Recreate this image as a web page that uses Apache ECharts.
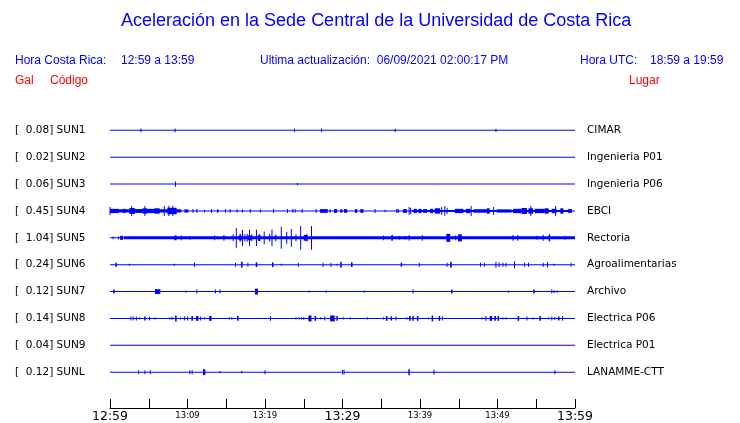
<!DOCTYPE html>
<html>
<head>
<meta charset="utf-8">
<script src="https://cdn.jsdelivr.net/npm/echarts@6/dist/echarts.min.js"></script>
<style>html,body{margin:0;padding:0;background:#fff;}#c{width:740px;height:423px;}</style>
</head>
<body>
<div id="c"></div>
<script>
// ---------- data ----------
const titleText = 'Aceleración en la Sede Central de la Universidad de Costa Rica';
const crLabel = 'Hora Costa Rica:';
const crRange = '12:59 a 13:59';
const updateText = 'Ultima actualización:  06/09/2021 02:00:17 PM';
const utcLabel = 'Hora UTC:';
const utcRange = '18:59 a 19:59';
const colGal = 'Gal';
const colCode = 'Código';
const colPlace = 'Lugar';

const stations = ['SUN1','SUN2','SUN3','SUN4','SUN5','SUN6','SUN7','SUN8','SUN9','SUNL'];
const peakGal = ['0.08','0.02','0.06','0.45','1.04','0.24','0.12','0.14','0.04','0.12'];
const places = ['CIMAR','Ingenieria P01','Ingenieria P06','EBCI','Rectoria','Agroalimentarias','Archivo','Electrica P06','Electrica P01','LANAMME-CTT'];
const tickMinutes = [0,10,20,30,40,50,60];
const tickLabels = ['12:59','13:09','13:19','13:29','13:39','13:49','13:59'];
const bigTicks = ['12:59','13:29','13:59'];

// events: [start minute, end minute, relative amplitude]
const sun1 = [[4.0,4.0,0.07],[8.4,8.4,0.07],[23.8,23.8,0.07],[27.3,27.3,0.07],[36.8,36.8,0.06],[49.8,49.8,0.06]];
const sun2 = [];
const sun3 = [[8.4,8.5,0.1],[24.2,24.2,0.04]];
const sun4 = [[0,9.2,0.06],[0,0,0.15],[0,1.1,0.08],[1.7,2.0,0.08],[2.5,3.2,0.11],[2.8,2.8,0.185],[3.2,4.2,0.07],[4.2,4.8,0.1],[4.5,4.5,0.185],[4.8,5.7,0.08],[5.7,6.4,0.1],[7.0,7.0,0.185],[7.4,8.6,0.12],[7.6,7.6,0.19],[8.1,8.1,0.19],[9.6,10.1,0.06],
  [10.7,10.7,0.07],[11.2,11.2,0.07],[12.2,12.2,0.05],[13.1,13.1,0.07],[13.8,14.0,0.06],[14.9,14.9,0.06],[15.5,15.5,0.07],[16.4,16.4,0.06],[17.1,17.1,0.06],[18.1,18.1,0.07],[19.4,19.4,0.06],[21.1,21.1,0.07],[22.9,22.9,0.07],[23.6,23.6,0.07],[23.9,23.9,0.06],[24.8,24.8,0.07],[26.6,26.6,0.07],[27.1,28.1,0.07],[28.4,28.4,0.07],[28.9,29.3,0.07],[29.7,30.0,0.06],[30.2,30.6,0.07],[31.6,31.9,0.07],[32.3,32.7,0.07],[34.2,34.2,0.075],[35.5,35.5,0.05],[37.0,37.0,0.075],[37.1,37.3,0.06],[37.8,38.3,0.07],[38.6,38.6,0.15],[38.8,38.8,0.11],
  [39.0,59.6,0.04],[39.2,39.6,0.08],[39.8,40.2,0.08],[40.4,40.9,0.07],[41.3,41.7,0.08],[41.9,42.6,0.1],[42.8,42.8,0.15],[43.2,43.2,0.185],[43.5,43.5,0.11],[44.5,45.6,0.08],[45.9,46.5,0.08],[46.6,46.6,0.185],[46.9,48.6,0.065],[48.6,49.0,0.1],[49.5,49.5,0.15],[49.9,51.8,0.06],[52.0,53.1,0.08],[53.1,53.8,0.11],[54.0,54.6,0.1],[54.3,54.3,0.185],[54.8,56.1,0.08],[56.1,56.6,0.1],[57.0,57.6,0.08],[57.5,57.5,0.185],[58.1,58.5,0.1],[59.1,59.6,0.07]];
const sun5 = [[1.8,60,0.055],[0.4,0.4,0.05],[1.1,1.1,0.05],[1.3,1.7,0.075],[8.3,8.6,0.09],[9.2,9.2,0.09],[10.3,10.3,0.07],[13.5,13.5,0.09],[14.7,14.7,0.11],
  [15.9,15.9,0.13],[16.3,16.3,0.37],[16.6,17.0,0.09],[16.8,16.8,0.15],[17.1,17.1,0.3],[17.4,17.4,0.13],[17.7,17.7,0.15],[17.8,18.3,0.09],[18.0,18.0,0.3],[18.3,18.3,0.13],[18.9,18.9,0.3],[19.1,19.4,0.11],[19.3,19.3,0.13],[19.9,19.9,0.24],[20.6,20.6,0.14],[20.9,20.9,0.31],[21.4,21.4,0.13],[22.1,22.1,0.41],[22.8,22.8,0.22],[23.4,23.4,0.33],[24.0,24.0,0.13],[24.6,24.6,0.44],[25.0,25.5,0.11],[25.4,25.4,0.14],[26.0,26.0,0.44],
  [35.3,35.3,0.09],[36.3,36.5,0.11],[37.3,37.3,0.07],[38.1,38.1,0.07],[38.6,38.6,0.11],[40.3,40.3,0.11],[43.4,43.9,0.15],[44.6,44.6,0.09],[44.9,45.4,0.13],[52.0,52.0,0.11],[52.6,52.6,0.11],[55.1,55.1,0.075],[55.9,55.9,0.11],[56.6,56.8,0.13],[58.7,58.7,0.075]];
const sun6 = [[0.7,0.9,0.075],[2.5,2.5,0.04],[8.3,8.3,0.04],[10.9,10.9,0.075],[16.2,16.2,0.075],[16.9,17.1,0.11],[17.8,17.8,0.075],[18.8,19.0,0.09],[20.9,21.1,0.09],[22.1,22.1,0.04],[24.3,24.3,0.075],[27.5,27.5,0.075],[28.5,28.5,0.075],[29.3,29.3,0.04],[29.7,29.9,0.11],[31.1,31.3,0.09],[37.5,37.7,0.075],[39.9,39.9,0.075],[43.5,43.5,0.075],[43.9,44.1,0.11],[47.8,47.8,0.075],[48.3,48.3,0.075],[49.8,49.8,0.11],[50.2,50.2,0.09],[50.7,50.7,0.075],[51.1,51.1,0.075],[52.2,52.2,0.13],[53.5,53.5,0.075],[54.0,54.0,0.075],[55.9,55.9,0.075],[56.4,56.5,0.1],[57.3,57.3,0.04],[59.5,59.5,0.075]];
const sun7 = [[0.4,0.6,0.075],[5.8,6.5,0.09],[9.8,9.8,0.04],[11.2,11.2,0.075],[13.6,13.6,0.075],[14.2,14.2,0.075],[18.7,19.1,0.11],[25.7,25.7,0.04],[27.9,27.9,0.04],[32.8,32.8,0.04],[39.1,39.1,0.075],[44.0,44.2,0.075],[51.4,51.4,0.04],[54.6,54.8,0.075],[57.0,57.0,0.075],[57.3,57.3,0.05],[57.7,57.7,0.04]];
const sun8 = [[2.7,2.7,0.075],[3.0,3.0,0.075],[3.4,3.4,0.075],[3.8,3.8,0.04],[4.4,4.6,0.075],[5.1,5.1,0.075],[5.8,5.8,0.04],[7.7,7.7,0.04],[8.0,8.0,0.05],[8.4,8.6,0.11],[9.1,9.1,0.04],[9.6,9.6,0.075],[10.0,10.0,0.075],[10.5,10.7,0.09],[11.1,11.4,0.09],[11.7,11.7,0.075],[12.2,12.2,0.04],[12.8,13.1,0.09],[15.4,15.4,0.04],[15.7,15.7,0.04],[16.4,16.6,0.09],[20.7,20.7,0.09],[24.0,24.0,0.04],[24.4,24.4,0.04],[24.7,24.7,0.04],[25.0,25.0,0.05],[25.6,26.0,0.11],[26.4,26.6,0.09],[27.2,27.2,0.04],[27.7,27.7,0.075],[28.4,29.0,0.11],[29.2,29.4,0.09],[30.1,30.1,0.04],[31.0,31.0,0.04],[33.2,33.2,0.04],[35.3,35.3,0.04],[35.6,35.8,0.09],[36.2,36.4,0.075],[36.9,36.9,0.075],[38.3,38.3,0.04],[38.6,38.8,0.09],[39.0,39.2,0.09],[39.6,39.8,0.09],[41.1,41.1,0.04],[41.5,41.7,0.11],[42.4,42.6,0.09],[42.9,42.9,0.075],[48.0,48.0,0.04],[48.5,48.5,0.09],[49.0,49.3,0.09],[49.6,49.8,0.09],[50.0,50.2,0.09],[50.7,50.7,0.04],[51.1,51.1,0.04],[52.6,52.8,0.09],[53.8,53.8,0.075],[54.6,54.6,0.04],[55.4,55.6,0.09],[56.6,56.6,0.04],[57.0,57.0,0.075],[57.4,57.4,0.05],[57.8,58.0,0.075],[58.4,58.4,0.09]];
const sun9 = [];
const sunL = [[3.7,3.7,0.075],[4.5,4.5,0.075],[5.2,5.2,0.075],[10.3,10.3,0.075],[10.6,10.6,0.075],[12.0,12.3,0.11],[14.2,14.2,0.04],[17.0,17.0,0.04],[20.0,20.0,0.075],[30.0,30.0,0.09],[30.2,30.2,0.09],[38.5,38.7,0.11],[41.8,41.8,0.09],[57.4,57.4,0.075]];

const traces = [sun1, sun2, sun3, sun4, sun5, sun6, sun7, sun8, sun9, sunL];

// ---------- chart ----------
const BLUE = '#0000ff', RED = '#ff0000';
const items = [];
traces.forEach((ev, i) => {
  items.push([i, 0, 60, 0]);
  ev.forEach(e => items.push([i, e[0], e[1], e[2]]));
});

function hdr(text, left, top, color, size, family) {
  return {text: text, left: left, top: top, padding: 0,
    textStyle: {color: color, fontSize: size, fontWeight: 'normal', fontFamily: family || 'Liberation Sans'}};
}

const chart = echarts.init(document.getElementById('c'), null, {renderer: 'canvas'});
const yBase = {
  type: 'value', min: -1, max: 31/3, interval: 1, inverse: true,
  splitLine: {show: false}, axisLine: {show: false}, axisTick: {show: false}
};
chart.setOption({
  animation: false,
  backgroundColor: '#fff',
  title: [
    hdr(titleText, 121, 12, BLUE, 18),
    hdr(crLabel, 15, 55, BLUE, 12),
    hdr(crRange, 121, 55, BLUE, 12),
    hdr(updateText, 260, 55, BLUE, 12),
    hdr(utcLabel, 580, 55, BLUE, 12),
    hdr(utcRange, 650, 55, BLUE, 12),
    hdr(colGal, 15, 75, RED, 12),
    hdr(colCode, 50, 75, RED, 12),
    hdr(colPlace, 629, 75, RED, 12)
  ],
  grid: {left: 110, right: 165, top: 103.5, bottom: 13.5, containLabel: false},
  xAxis: {
    type: 'value', min: 0, max: 60, interval: 5, position: 'bottom',
    splitLine: {show: false},
    axisLine: {show: true, onZero: false, lineStyle: {color: '#000', width: 1}},
    axisTick: {show: true, inside: true, length: 9, lineStyle: {color: '#000', width: 1}},
    axisLabel: {
      margin: 2, color: '#000', fontFamily: 'DejaVu Sans',
      showMinLabel: true, showMaxLabel: true,
      formatter: function (v) {
        const k = tickMinutes.indexOf(Math.round(v));
        if (k < 0 || Math.abs(v - tickMinutes[k]) > 1e-6) return '';
        const t = tickLabels[k];
        return bigTicks.indexOf(t) >= 0 ? '{big|' + t + '}' : '{small|' + t + '}';
      },
      rich: {
        big: {fontSize: 12.5, fontFamily: 'DejaVu Sans', color: '#000'},
        small: {fontSize: 8.5, fontFamily: 'DejaVu Sans', color: '#000', padding: [1, 0, 0, 0]}
      }
    }
  },
  yAxis: [
    Object.assign({}, yBase, {
      position: 'left',
      axisLabel: {
        align: 'left', margin: 95, color: '#000', fontSize: 10.5, fontFamily: 'DejaVu Sans',
        showMinLabel: true, showMaxLabel: true, padding: [2, 0, 0, 0],
        formatter: function (v) {
          const i = Math.round(v);
          if (Math.abs(v - i) > 1e-6 || i < 0 || i >= stations.length) return '';
          return '[  ' + peakGal[i] + '] ' + stations[i];
        }
      }
    }),
    Object.assign({}, yBase, {
      position: 'right',
      axisLabel: {
        align: 'left', margin: 12, color: '#000', fontSize: 10.5, fontFamily: 'DejaVu Sans',
        showMinLabel: true, showMaxLabel: true, padding: [2, 0, 0, 0],
        formatter: function (v) {
          const i = Math.round(v);
          if (Math.abs(v - i) > 1e-6 || i < 0 || i >= places.length) return '';
          return places[i];
        }
      }
    })
  ],
  series: [{
    type: 'custom',
    silent: true,
    xAxisIndex: 0, yAxisIndex: 0,
    data: items,
    encode: {x: [1, 2], y: 0},
    renderItem: function (params, api) {
      const tr = api.value(0), t0 = api.value(1), t1 = api.value(2), a = api.value(3);
      const p0 = api.coord([t0, tr - a]);
      const p1 = api.coord([t1, tr + a]);
      let x = Math.min(p0[0], p1[0]);
      let w = Math.abs(p1[0] - p0[0]);
      if (w < 1) { x = (p0[0] + p1[0]) / 2 - 0.5; w = 1; }
      let y = Math.min(p0[1], p1[1]);
      let h = Math.abs(p1[1] - p0[1]);
      if (h < 1) { y = (p0[1] + p1[1]) / 2 - 0.5; h = 1; }
      return {type: 'rect', shape: {x: x, y: y, width: w, height: h}, style: {fill: BLUE}};
    }
  }]
});
</script>
</body>
</html>
